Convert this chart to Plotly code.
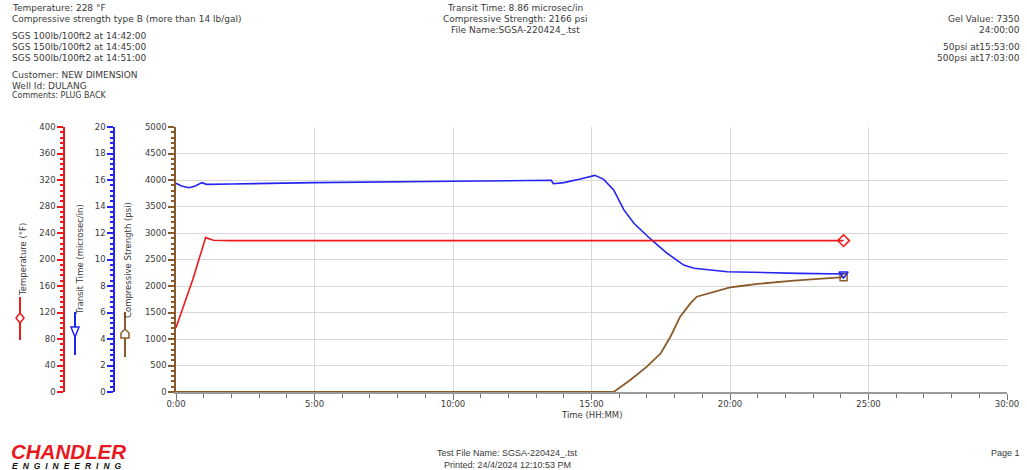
import plotly.graph_objects as go

# ---------------- data ----------------
temp_t = [0, 0.6, 1.07, 1.35, 2.0, 5.0, 10.0, 15.0, 20.0, 24.1]
temp_v = [97, 169, 233, 229, 228.5, 228.5, 228.5, 228.5, 228.5, 228.5]

transit_t = [0, 0.2, 0.47, 0.7, 0.93, 1.1, 2.0, 5.0, 10.0, 13.55, 13.62, 14.0, 14.6,
             15.12, 15.44, 15.8, 16.17, 16.53, 17.13, 17.73, 18.33, 18.7, 19.9, 21.1, 22.5, 24.1]
transit_v = [15.75, 15.55, 15.42, 15.55, 15.8, 15.67, 15.7, 15.8, 15.9, 15.98, 15.72, 15.8, 16.07,
             16.35, 16.05, 15.25, 13.74, 12.73, 11.55, 10.47, 9.58, 9.34, 9.08, 9.0, 8.95, 8.9]

cs_t = [0, 15.8, 16.4, 17.0, 17.5, 17.85, 18.2, 18.57, 18.8, 19.4, 20.0, 20.4, 21.0, 22.3, 24.1]
cs_v = [0, 0, 226, 478, 730, 1043, 1421, 1673, 1798, 1892, 1975, 2000, 2040, 2100, 2166]

x_tickvals = [0, 5, 10, 15, 20, 25, 30]
x_ticktext = ["0:00", "5:00", "10:00", "15:00", "20:00", "25:00", "30:00"]

# ---------------- style ----------------
W, H = 1027, 470
RED = "#f01818"
BLUE = "#2424f0"
BROWN = "#8b5a2b"
GRID = "#d8d8d8"
TXT = "#3a3a3a"
FONT = "DejaVu Sans"

def px(x):
    return x / W

def py(y):
    return 1 - y / H

X0, X1 = 176, 1007
Y0, Y1 = 127, 392

fig = go.Figure()

fig.add_trace(go.Scatter(x=temp_t, y=temp_v, mode="lines", line=dict(color=RED, width=1.6),
                         yaxis="y3", showlegend=False, hoverinfo="skip"))
fig.add_trace(go.Scatter(x=[temp_t[-1]], y=[temp_v[-1]], mode="markers", yaxis="y3",
                         marker=dict(symbol="diamond-open", size=9, color=RED, line=dict(width=1.5)),
                         showlegend=False, hoverinfo="skip"))
fig.add_trace(go.Scatter(x=transit_t, y=transit_v, mode="lines", line=dict(color=BLUE, width=1.6),
                         yaxis="y2", showlegend=False, hoverinfo="skip"))
fig.add_trace(go.Scatter(x=[transit_t[-1]], y=[transit_v[-1]], mode="markers", yaxis="y2",
                         marker=dict(symbol="triangle-down-open", size=8, color=BLUE, line=dict(width=1.5)),
                         showlegend=False, hoverinfo="skip"))
fig.add_trace(go.Scatter(x=cs_t, y=cs_v, mode="lines", line=dict(color=BROWN, width=1.8),
                         yaxis="y", showlegend=False, hoverinfo="skip", cliponaxis=False))
fig.add_trace(go.Scatter(x=[cs_t[-1]], y=[cs_v[-1]], mode="markers", yaxis="y",
                         marker=dict(symbol="square-open", size=7, color=BROWN, line=dict(width=1.5)),
                         showlegend=False, hoverinfo="skip"))

tickfont = dict(family=FONT, size=8.5, color=TXT)

fig.update_layout(
    width=W, height=H,
    margin=dict(l=0, r=0, t=0, b=0, pad=0),
    paper_bgcolor="white", plot_bgcolor="white",
    xaxis=dict(domain=[px(X0), px(X1)], range=[0, 30], tickvals=x_tickvals, ticktext=x_ticktext,
               ticks="outside", ticklen=6, tickcolor="#777", tickwidth=1, ticklabelstandoff=-3,
               minor=dict(dtick=1, ticks="outside", ticklen=4, tickcolor="#777", showgrid=False),
               showgrid=True, gridcolor=GRID, gridwidth=1, showline=True, linecolor="#999",
               linewidth=1.5, zeroline=False, tickfont=tickfont, automargin=False, layer="below traces"),
    yaxis=dict(domain=[py(Y1), py(Y0)], range=[0, 5000], dtick=500, anchor="x", side="left",
               ticks="outside", ticklen=6, tickcolor=BROWN, tickwidth=1.5,
               minor=dict(dtick=100, ticks="outside", ticklen=3, tickcolor=BROWN, showgrid=False),
               showgrid=True, gridcolor=GRID, showline=True, linecolor=BROWN, linewidth=1.5,
               zeroline=False, tickfont=tickfont, automargin=False),
    yaxis2=dict(domain=[py(Y1), py(Y0)], range=[0, 20], dtick=2, overlaying="y", anchor="free",
                position=px(114), side="left",
                ticks="outside", ticklen=6, tickcolor=BLUE, tickwidth=1.5,
                minor=dict(dtick=0.4, ticks="outside", ticklen=3, tickcolor=BLUE),
                showgrid=False, showline=True, linecolor=BLUE, linewidth=1.5, zeroline=False,
                tickfont=tickfont, automargin=False),
    yaxis3=dict(domain=[py(Y1), py(Y0)], range=[0, 400], dtick=40, overlaying="y", anchor="free",
                position=px(64), side="left",
                ticks="outside", ticklen=6, tickcolor=RED, tickwidth=1.5,
                minor=dict(dtick=8, ticks="outside", ticklen=3, tickcolor=RED),
                showgrid=False, showline=True, linecolor=RED, linewidth=1.5, zeroline=False,
                tickfont=tickfont, automargin=False),
)

annotations = []

def txt(x, y, s, anchor="left", size=9, color=TXT, family=FONT, angle=0, bold=False, italic=False):
    if bold:
        s = "<b>" + s + "</b>"
    if italic:
        s = "<i>" + s + "</i>"
    annotations.append(dict(x=px(x), y=py(y), xref="paper", yref="paper", text=s, showarrow=False,
                            xanchor=anchor, yanchor="middle", textangle=angle,
                            font=dict(family=family, size=size, color=color)))

# header left
txt(10, 8, "Temperature: 228 °F")
txt(10, 19, "Compressive strength type B (more than 14 lb/gal)")
txt(10, 36, "SGS 100lb/100ft2 at 14:42:00")
txt(10, 47, "SGS 150lb/100ft2 at 14:45:00")
txt(10, 58, "SGS 500lb/100ft2 at 14:51:00")
txt(10, 75, "Customer: NEW DIMENSION")
txt(10, 86, "Well Id: DULANG")
txt(10, 96, "Comments: PLUG BACK", size=8)
# header center
txt(515, 8, "Transit Time: 8.86 microsec/in", anchor="center")
txt(515, 19, "Compressive Strength: 2166 psi", anchor="center")
txt(515, 30, "File Name:SGSA-220424_.tst", anchor="center")
# header right
txt(1022, 19, "Gel Value: 7350", anchor="right")
txt(1022, 30, "24:00:00", anchor="right")
txt(1022, 47, "50psi at15:53:00", anchor="right")
txt(1022, 58, "500psi at17:03:00", anchor="right")

# axis titles
txt(23, 260, "Temperature (°F)", anchor="center", size=8.5, angle=-90)
txt(80, 260, "Transit Time (microsec/in)", anchor="center", size=8.5, angle=-90)
txt(128, 260, "Compressive Strength (psi)", anchor="center", size=8.5, angle=-90)
txt((X0 + X1) / 2, 415, "Time (HH:MM)", anchor="center", size=8.5)

# footer
txt(9, 451, "CHANDLER", size=20.5, color="#e8191e", family="Liberation Sans", bold=True, italic=True)
txt(10, 466, "\u2002\u200a".join("ENGINEERING"), size=8.5,
    color="#111111", family="Liberation Sans", bold=True, italic=True)
txt(507, 453, "Test File Name: SGSA-220424_.tst", anchor="center", size=9, family="Liberation Sans")
txt(507, 465, "Printed: 24/4/2024 12:10:53 PM", anchor="center", size=9, family="Liberation Sans")
txt(1022, 453, "Page 1", anchor="right", size=9, family="Liberation Sans")

fig.update_layout(annotations=annotations)

# legend glyphs beside axis titles
shapes = []

def vline(x, y0, y1, color):
    shapes.append(dict(type="line", xref="paper", yref="paper", x0=px(x), x1=px(x), y0=py(y0), y1=py(y1),
                       line=dict(color=color, width=2)))

def poly(points, color):
    path = "M " + " L ".join(f"{px(a):.5f},{py(b):.5f}" for a, b in points) + " Z"
    shapes.append(dict(type="path", xref="paper", yref="paper", path=path, fillcolor="white",
                       line=dict(color=color, width=1.5)))

vline(20, 297, 340, RED)
poly([(20, 313), (24, 318), (20, 323), (16, 318)], RED)
vline(75, 312, 355, BLUE)
poly([(71, 327), (79, 327), (75, 337)], BLUE)
vline(125, 312, 357, BROWN)
poly([(121, 338), (129, 338), (129, 333), (125, 329), (121, 333)], BROWN)

fig.update_layout(shapes=shapes)

fig.write_html("out.html", config={"displayModeBar": False},
               post_script="document.body.style.margin='0px';document.body.style.overflow='hidden';")
